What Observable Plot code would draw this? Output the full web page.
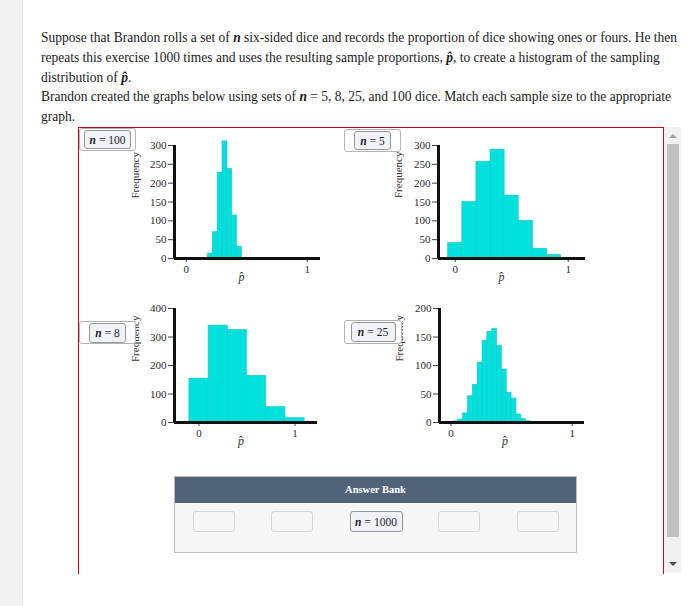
<!DOCTYPE html>
<html><head><meta charset="utf-8">
<script src="https://cdn.jsdelivr.net/npm/d3@7"></script>
<script src="https://cdn.jsdelivr.net/npm/@observablehq/plot@0.6"></script>
<style>
html,body{margin:0;padding:0;background:#fff;width:698px;height:606px;overflow:hidden;font-family:"Liberation Serif","Times New Roman",serif;}
#leftband{position:absolute;left:0;top:0;width:22px;height:606px;background:#f2f2f2;border-right:1px solid #e3e3e3;}
#question{position:absolute;left:41px;top:28px;color:#1a1a1a;font-size:15px;line-height:19.8px;}
#question .ln{white-space:nowrap;width:max-content;transform-origin:0 50%;}
#box{position:absolute;left:78px;top:127px;width:584px;height:446px;border:1px solid #d0021b;border-bottom:none;}
#sb{position:absolute;left:664px;top:127px;width:17px;height:446px;background:#f1f1f1;}
#thumb{position:absolute;left:2.5px;top:17px;width:12px;height:393px;background:#c1c1c1;}
.up{position:absolute;left:4.5px;top:7px;width:0;height:0;border-left:4px solid transparent;border-right:4px solid transparent;border-bottom:4px solid #a3a3a3;}
.down{position:absolute;left:4.5px;bottom:7px;width:0;height:0;border-left:4px solid transparent;border-right:4px solid transparent;border-top:4px solid #505050;}
.zone{position:absolute;box-sizing:border-box;border:1px solid #b3b3b3;border-radius:3px;background:#fff;display:flex;justify-content:center;align-items:flex-start;padding-top:1px;}
.btn{box-sizing:border-box;border:1px solid #979797;border-radius:3px;background:#f0f2f5;font-family:"Liberation Serif",serif;font-size:11.5px;color:#1c2230;display:flex;align-items:center;justify-content:center;white-space:nowrap;}
.btn i{margin-right:3px;font-weight:bold;}
#bank{position:absolute;left:174px;top:476px;width:401px;height:75px;border:1px solid #bdbdbd;background:#f6f6f6;}
#bankhead{height:26px;background:#506379;color:#fff;font-weight:bold;font-size:10.5px;text-align:center;line-height:26px;}
.slot{position:absolute;top:34px;width:42px;height:21px;box-sizing:border-box;border:1px solid #d6d6d6;border-radius:3px;background:#f7f7f7;}
</style>
</head><body>
<div id="leftband"></div>
<div id="question">
<div class="ln">Suppose that Brandon rolls a set of <b><i>n</i></b> six-sided dice and records the proportion of dice showing ones or fours. He then</div>
<div class="ln">repeats this exercise 1000 times and uses the resulting sample proportions, <b><i>p̂</i></b>, to create a histogram of the sampling</div>
<div class="ln">distribution of <b><i>p̂</i></b>.</div>
<div class="ln">Brandon created the graphs below using sets of <b><i>n</i></b> = 5, 8, 25, and 100 dice. Match each sample size to the appropriate</div>
<div class="ln">graph.</div>
</div>
<div id="box"></div>
<div id="sb"><div class="up"></div><div id="thumb"></div><div class="down"></div></div>
<div id="plots"></div>
<div id="zones"></div>
<div id="bank"><div id="bankhead">Answer Bank</div></div>
<script>
// ---- data ----
const xTicks = [0, 1];

const edgesN100 = [0.18, 0.22, 0.26, 0.30, 0.34, 0.38, 0.42, 0.46];
const countsN100 = [13, 70, 228, 311, 238, 114, 31];
const yTicksN100 = [0, 50, 100, 150, 200, 250, 300];

const edgesN5 = [-0.0625, 0.0625, 0.1875, 0.3125, 0.4375, 0.5625, 0.6875, 0.8125, 0.9375];
const countsN5 = [41, 150, 257, 289, 167, 100, 26, 9];
const yTicksN5 = [0, 50, 100, 150, 200, 250, 300];

const edgesN8 = [-0.1, 0.1, 0.3, 0.5, 0.7, 0.9, 1.1];
const countsN8 = [154, 340, 325, 164, 54, 15];
const yTicksN8 = [0, 100, 200, 300, 400];

const edgesN25 = [0.02, 0.06, 0.10, 0.14, 0.18, 0.22, 0.26, 0.30, 0.34, 0.38, 0.42, 0.46, 0.50, 0.54, 0.58, 0.62, 0.66];
const countsN25 = [2, 5, 16, 46, 66, 105, 143, 159, 164, 134, 93, 52, 42, 14, 6, 2];
const yTicksN25 = [0, 50, 100, 150, 200];

const placedLabels = ["100", "5", "8", "25"];
const bankLabels = ["", "", "1000", "", ""];

// ---- layout ----
const FONT = "Liberation Serif, Times New Roman, serif";
const layouts = [
  {edges: edgesN100, counts: countsN100, yTicks: yTicksN100, left: 110, top: 135, ml: 64, mr: 10, mt: 10, mb: 37, xdom: [-0.0967, 1.1099], fdx: -39.5, fdy: -3.5, pdx: -6},
  {edges: edgesN5, counts: countsN5, yTicks: yTicksN5, left: 380, top: 135, ml: 58, mr: 15, mt: 10, mb: 37, xdom: [-0.1478, 1.1531], fdx: -40, fdy: -4, pdx: -10.5},
  {edges: edgesN8, counts: countsN8, yTicks: yTicksN8, left: 110, top: 298, ml: 64, mr: 13, mt: 10, mb: 36, xdom: [-0.2552, 1.2344], fdx: -39.5, fdy: -3.5, pdx: -5},
  {edges: edgesN25, counts: countsN25, yTicks: yTicksN25, left: 380, top: 298, ml: 59, mr: 16, mt: 10, mb: 36, xdom: [-0.0949, 1.1015], fdx: -40.5, fdy: -4, pdx: -7}
];

const plotsDiv = document.getElementById("plots");
layouts.forEach(L => {
  const bins = L.counts.map((c, i) => ({x1: L.edges[i], x2: L.edges[i + 1], count: c}));
  const ymax = L.yTicks[L.yTicks.length - 1];
  const chart = Plot.plot({
    width: 220, height: 160,
    marginLeft: L.ml, marginRight: L.mr, marginTop: L.mt, marginBottom: L.mb,
    x: {domain: L.xdom},
    y: {domain: [0, ymax]},
    style: "font-family: 'Liberation Serif', 'Times New Roman', serif; font-size: 11px; color: #2a2a2a; background: transparent; overflow: visible;",
    marks: [
      Plot.rect(bins, {x1: "x1", x2: "x2", y1: 0, y2: "count", fill: "#00e0dc", stroke: "#16c9c6", strokeWidth: 0.6}),
      Plot.axisX({ticks: xTicks, tickSize: 4, tickPadding: 3, label: null, tickFormat: d => String(d), fontFamily: FONT, fontSize: 11, stroke: "#444"}),
      Plot.axisY({ticks: L.yTicks, tickSize: 6, tickPadding: 2, label: null, tickFormat: d => String(d), fontFamily: FONT, fontSize: 11, stroke: "#444"}),
      Plot.ruleY([0], {stroke: "#111", strokeWidth: 3}),
      Plot.ruleX([L.xdom[0]], {y1: 0, y2: ymax, stroke: "#111", strokeWidth: 3}),
      Plot.text(["Frequency"], {frameAnchor: "left", rotate: -90, dx: L.fdx, dy: L.fdy, fontSize: 11, fontFamily: FONT, fill: "#333"}),
      Plot.text(["p\u0302"], {frameAnchor: "bottom", dx: L.pdx, dy: 22, fontSize: 12, fontFamily: FONT, fontStyle: "italic", fill: "#333"})
    ]
  });
  chart.style.position = "absolute";
  chart.style.left = L.left + "px";
  chart.style.top = L.top + "px";
  plotsDiv.appendChild(chart);
});

// ---- drop zones with placed answers ----
const zones = [
  {zl: 79, zt: 128, zw: 57, zh: 23, bw: 47, bh: 19},
  {zl: 344, zt: 129, zw: 57, zh: 23, bw: 37, bh: 19},
  {zl: 79, zt: 321, zw: 57, zh: 23, bw: 37, bh: 20},
  {zl: 344, zt: 320, zw: 58, zh: 24, bw: 45, bh: 20}
];
const zonesDiv = document.getElementById("zones");
zones.forEach((z, i) => {
  const d = document.createElement("div");
  d.className = "zone";
  Object.assign(d.style, {left: z.zl + "px", top: z.zt + "px", width: z.zw + "px", height: z.zh + "px"});
  const b = document.createElement("div");
  b.className = "btn";
  Object.assign(b.style, {width: z.bw + "px", height: z.bh + "px"});
  b.innerHTML = "<i>n</i>= " + placedLabels[i];
  d.appendChild(b);
  zonesDiv.appendChild(d);
});

// ---- answer bank ----
const bank = document.getElementById("bank");
const slotLefts = [18, 96, 174.5, 263, 341.5];
bankLabels.forEach((lab, i) => {
  const s = document.createElement("div");
  if (lab) {
    s.className = "btn";
    Object.assign(s.style, {position: "absolute", top: "34px", left: slotLefts[i] + "px", width: "53px", height: "21px"});
    s.innerHTML = "<i>n</i>= " + lab;
  } else {
    s.className = "slot";
    s.style.left = slotLefts[i] + "px";
  }
  bank.appendChild(s);
});

// ---- fit question text width ----
const lines = document.querySelectorAll("#question .ln");
const natural = lines[0].getBoundingClientRect().width;
const sx = 636 / natural;
lines.forEach(l => { l.style.transform = "scaleX(" + sx + ")"; });
</script>
</body></html>
